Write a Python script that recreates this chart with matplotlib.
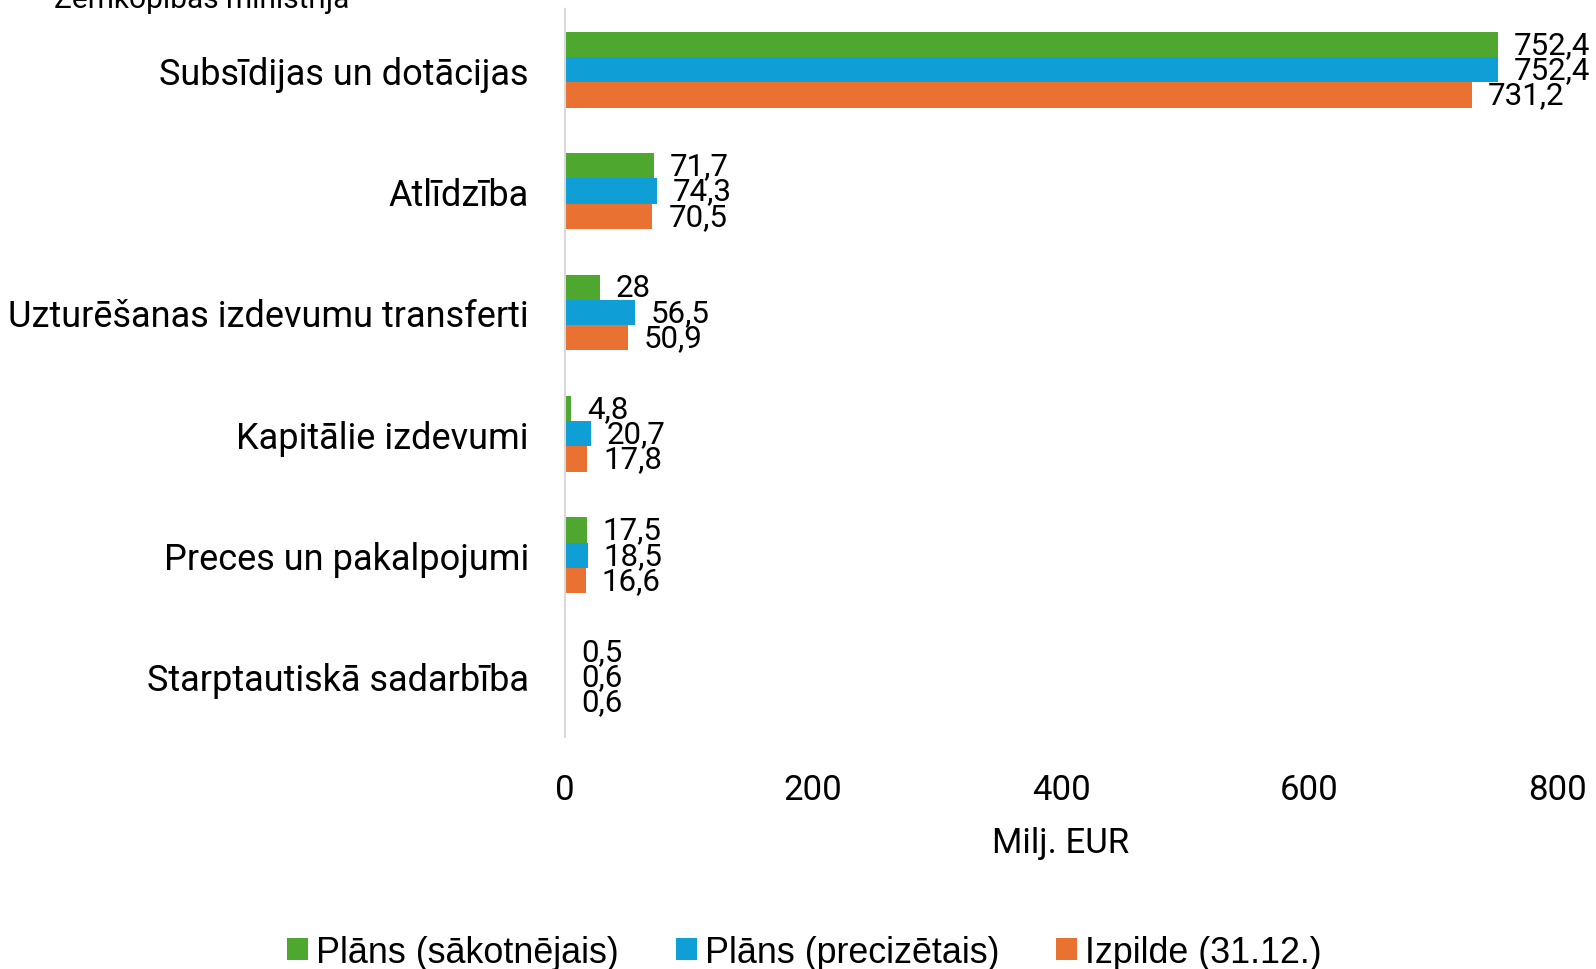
import numpy as np
import matplotlib
matplotlib.use('Agg')
import matplotlib.pyplot as plt

# Dati
kategorijas = ['Subsīdijas un dotācijas', 'Atlīdzība', 'Uzturēšanas izdevumu transferti',
               'Kapitālie izdevumi', 'Preces un pakalpojumi', 'Starptautiskā sadarbība']
plans_sak = [752.4, 71.7, 28.0, 4.8, 17.5, 0.5]
plans_prec = [752.4, 74.3, 56.5, 20.7, 18.5, 0.6]
izpilde = [731.2, 70.5, 50.9, 17.8, 16.6, 0.6]
serijas = ['Plāns (sākotnējais)', 'Plāns (precizētais)', 'Izpilde (31.12.)']
krasas = ['#4EA72E', '#0F9ED5', '#E97132']
x_ticks = [0, 200, 400, 600, 800]

plt.rcParams['font.family'] = ['Roboto', 'DejaVu Sans']

fig = plt.figure(figsize=(15.96, 9.70), dpi=100)
ax = fig.add_axes([0.354, 0.239, 0.6216, 0.7507])

y = np.arange(len(kategorijas))
h = 0.208
for i, (vals, lab, c) in enumerate(zip([plans_sak, plans_prec, izpilde], serijas, krasas)):
    pos = y + (i - 1) * h
    ax.barh(pos, vals, height=h, color=c, label=lab)
    for p, v in zip(pos, vals):
        txt = ('%g' % v).replace('.', ',')
        ax.annotate(txt, (v, p), xytext=(11.5, 0), textcoords='offset points',
                    va='center', ha='left', fontsize=22.5)

ax.set_ylim(len(kategorijas) - 0.5, -0.5)
ax.set_xlim(0, 800)
ax.set_xticks(x_ticks)
ax.set_xticklabels([str(t) for t in x_ticks], fontsize=25)
ax.set_yticks(y)
ax.set_yticklabels(kategorijas, fontsize=26)
ax.tick_params(length=0)
ax.tick_params(axis='x', pad=26)
ax.tick_params(axis='y', pad=26)
for s in ['top', 'right', 'bottom']:
    ax.spines[s].set_visible(False)
ax.spines['left'].set_color('#d9d9d9')
ax.spines['left'].set_linewidth(1.5)
ax.set_xlabel('Milj. EUR', fontsize=25, labelpad=14)

fig.text(0.034, 0.992, 'Zemkopības ministrija', fontsize=21.5, va='baseline', ha='left')

fig.legend(loc='lower center', bbox_to_anchor=(0.504, -0.034), ncol=3, frameon=False,
           handlelength=0.58, handleheight=0.58, handletextpad=0.22,
           columnspacing=1.6, prop={'family': ['Liberation Sans Narrow', 'Liberation Sans'], 'size': 25.8})

plt.savefig('out.png', dpi=100)
